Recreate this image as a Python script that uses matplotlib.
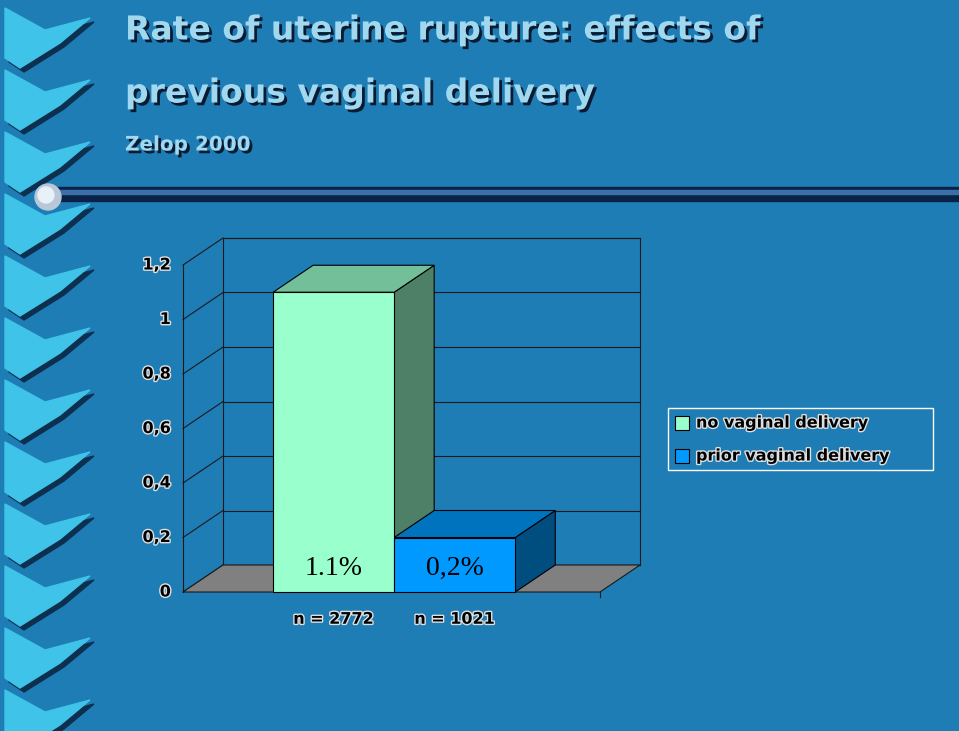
import matplotlib
matplotlib.use("Agg")
import matplotlib.pyplot as plt
from matplotlib.patches import Polygon, Rectangle, Circle
import matplotlib.patheffects as pe
from matplotlib import font_manager

categories = ["no vaginal delivery", "prior vaginal delivery"]
values = [1.1, 0.2]
value_labels = ["1.1%", "0,2%"]
n_labels = ["n = 2772", "n = 1021"]
yticks = [0, 0.2, 0.4, 0.6, 0.8, 1.0, 1.2]
ytick_labels = ["0", "0,2", "0,4", "0,6", "0,8", "1", "1,2"]
front_colors = ["#99FFCC", "#0099FF"]
top_colors = ["#73BF99", "#0073BF"]
side_colors = ["#4D8066", "#004D80"]

names = {f.name for f in font_manager.fontManager.ttflist}
if "Liberation Sans Narrow" in names:
    COND, S = "Liberation Sans Narrow", 1.0
elif "DejaVu Sans Condensed" in names:
    COND, S = "DejaVu Sans Condensed", 0.85
else:
    COND, S = "DejaVu Sans", 0.72

W, H = 959, 731
BG = "#1E7DB5"
fig = plt.figure(figsize=(W/100, H/100), dpi=100, facecolor=BG)

deco = fig.add_axes([0, 0, 1, 1]); deco.set_xlim(0, W); deco.set_ylim(H, 0); deco.axis("off")
for k in range(12):
    y0 = 8 + k*62
    pts = [(5, y0), (45, y0+22), (90, y0+10), (60, y0+35), (20, y0+60), (5, y0+50)]
    deco.add_patch(Polygon([(x+4, y+4) for x, y in pts], color="#0D3050", zorder=1))
    deco.add_patch(Polygon(pts, color="#3FC3E8", zorder=2))
deco.add_patch(Rectangle((40, 187), W-40, 14, color="#0A2248", zorder=3))
deco.add_patch(Rectangle((40, 190), W-40, 4, color="#3A6FA8", zorder=4))
deco.add_patch(Circle((48, 197), 13, color="#B8C8D8", zorder=5))
deco.add_patch(Circle((46, 195), 8, color="#E8F0F8", zorder=6))

shadow = [pe.withSimplePatchShadow(offset=(2, -2), shadow_rgbFace="#0A1A30", alpha=1)]
halo = [pe.withStroke(linewidth=2, foreground="#E0E0E0")]
fig.text(125/W, 1-30/H, "Rate of uterine rupture: effects of", fontsize=33*S, fontweight="bold",
         family=COND, color="#A0D8F0", va="center", path_effects=shadow)
fig.text(125/W, 1-93/H, "previous vaginal delivery", fontsize=33*S, fontweight="bold",
         family=COND, color="#A0D8F0", va="center", path_effects=shadow)
fig.text(125/W, 1-145/H, "Zelop 2000", fontsize=20*S, fontweight="bold",
         family=COND, color="#A0D8F0", va="center", path_effects=shadow)

px_per_unit = 327/1.2
ax = fig.add_axes([183/W, (H-592)/H, 417/W, 327/H])
ax.set_xlim(-0.744, 2.70); ax.set_ylim(0, 1.2); ax.axis("off")
xu = 121.0
dx = 40/xu; dy = 27/px_per_unit
kw = dict(clip_on=False)
xl, xr = -0.744 + dx, 2.70 + dx
ax.add_patch(Polygon([(xl, dy), (xr, dy), (xr, 1.2+dy), (xl, 1.2+dy)], closed=True, fill=False, ec="#1A1A1A", lw=0.8, zorder=1, **kw))
for t, lab in zip(yticks, ytick_labels):
    ax.plot([xl, xr], [t+dy, t+dy], color="#1A1A1A", lw=0.8, clip_on=False, zorder=1)
    ax.plot([-0.744, xl], [t, t+dy], color="#1A1A1A", lw=0.8, clip_on=False, zorder=1)
    ax.text(-0.744-0.1, t, lab, ha="right", va="center", fontsize=16*S, fontweight="bold",
            family=COND, color="black", path_effects=halo)
ax.plot([-0.744, -0.744], [0, 1.2], color="#1A1A1A", lw=0.8, clip_on=False, zorder=1)
ax.add_patch(Polygon([(-0.744, 0), (2.70, 0), (2.70+dx, dy), (-0.744+dx, dy)], fc="#808080", ec="#1A1A1A", lw=0.8, zorder=2, **kw))
ax.plot([2.70, 2.70], [0, -0.02], color="#1A1A1A", lw=0.8, clip_on=False)
for i, v in enumerate(values):
    x0, x1 = i, i+1
    ax.add_patch(Polygon([(x1, 0), (x1+dx, dy), (x1+dx, v+dy), (x1, v)], fc=side_colors[i], ec="black", lw=0.8, zorder=3, **kw))
    ax.add_patch(Polygon([(x0, v), (x1, v), (x1+dx, v+dy), (x0+dx, v+dy)], fc=top_colors[i], ec="black", lw=0.8, zorder=3, **kw))
    ax.add_patch(Rectangle((x0, 0), 1, v, fc=front_colors[i], ec="black", lw=0.8, zorder=4, **kw))
    ax.text(i+0.5, 0.085, value_labels[i], ha="center", va="center", fontsize=20, family="Liberation Serif", color="black", zorder=5)
    ax.text(i+0.5, -0.1, n_labels[i], ha="center", va="center", fontsize=16*S, fontweight="bold", family=COND, color="black",
            path_effects=halo)

deco.add_patch(Rectangle((668, 408), 265, 62, fill=False, ec="white", lw=1, zorder=5))
for i, c in enumerate(categories):
    yy = 423 + i*33
    deco.add_patch(Rectangle((675, yy-7), 14, 14, fc=front_colors[i], ec="black", lw=0.8, zorder=6))
    deco.text(696, yy, c, va="center", fontsize=16*S, fontweight="bold", family=COND, color="black", zorder=6,
              path_effects=halo)

fig.savefig("out.png", dpi=100, facecolor=BG)
